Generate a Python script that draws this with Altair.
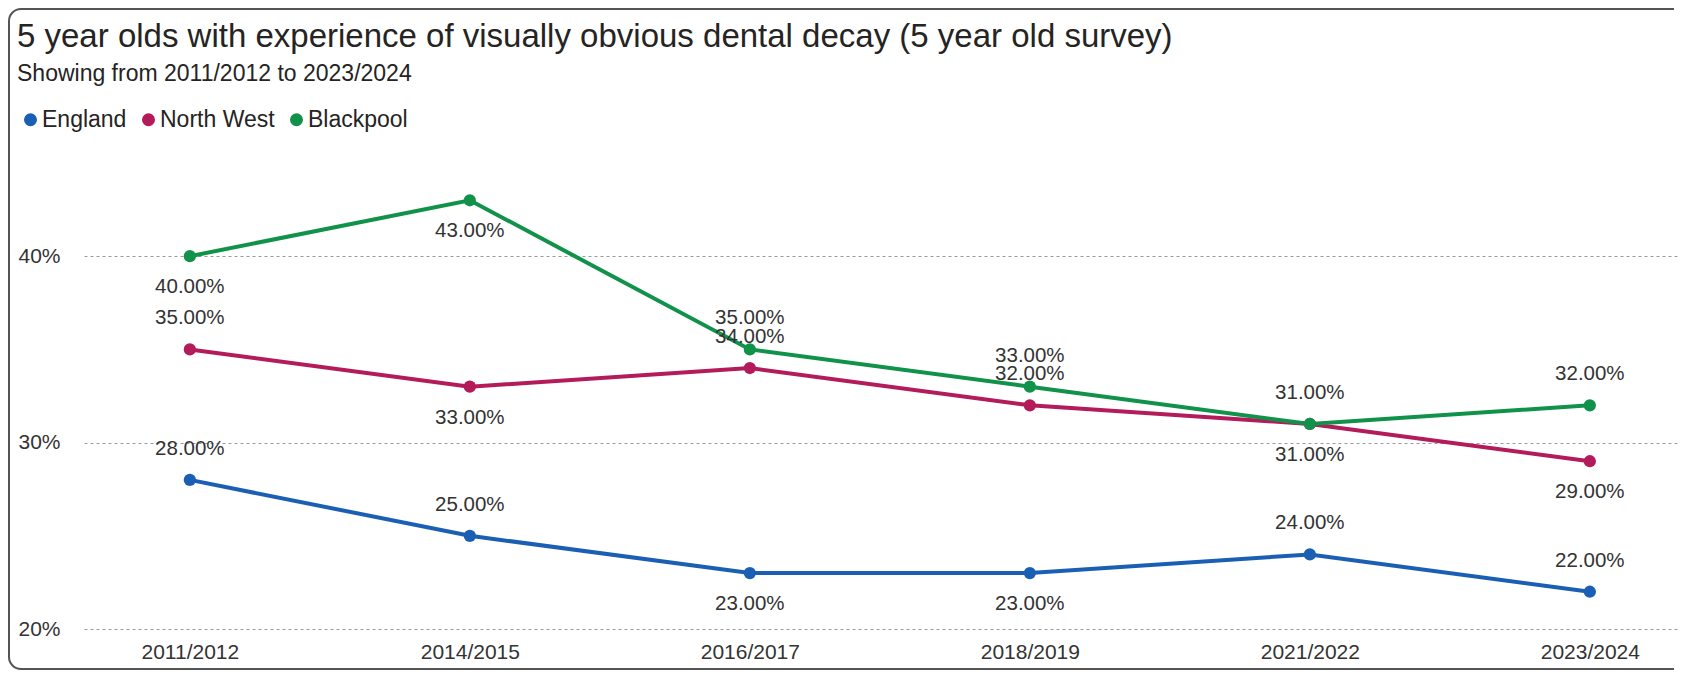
import altair as alt
import pandas as pd

# ---- data ----
periods = ["2011/2012", "2014/2015", "2016/2017", "2018/2019", "2021/2022", "2023/2024"]
england = [0.28, 0.25, 0.23, 0.23, 0.24, 0.22]
north_west = [0.35, 0.33, 0.34, 0.32, 0.31, 0.29]
blackpool = [0.40, 0.43, 0.35, 0.33, 0.31, 0.32]
england_label_side = ["above", "above", "below", "below", "above", "above"]
north_west_label_side = ["above", "below", "above", "above", "below", "below"]
blackpool_label_side = ["below", "below", "above", "above", "above", "above"]
series_names = ["England", "North West", "Blackpool"]
series_colors = ["#1A5FB4", "#B31B5B", "#11924A"]
y_ticks = [0.2, 0.3, 0.4]

rows = []
for name, vals, sides in [
    ("England", england, england_label_side),
    ("North West", north_west, north_west_label_side),
    ("Blackpool", blackpool, blackpool_label_side),
]:
    for p, v, s in zip(periods, vals, sides):
        rows.append({"period": p, "value": v, "series": name, "side": s})
df = pd.DataFrame(rows)

FONT = "Liberation Sans"
TXT = "#252423"

x_enc = alt.X(
    "period:O",
    sort=periods,
    scale=alt.Scale(type="point", padding=0.35, align=0.54),
    axis=alt.Axis(
        title=None, domain=False, ticks=False, grid=False, labelAngle=0,
        labelFontSize=21, labelFont=FONT, labelColor="#333333", labelPadding=12,
    ),
)
y_enc = alt.Y(
    "value:Q",
    scale=alt.Scale(domain=[0.2, 0.45], nice=False, zero=False),
    axis=alt.Axis(
        title=None, domain=False, ticks=False, values=y_ticks, format=".0%",
        labelAlign="left", labelBaseline="middle", labelPadding=66,
        labelFontSize=21, labelFont=FONT, labelColor="#333333",
        gridDash=[3, 3], gridColor="#9a9a9a", gridWidth=1,
    ),
)
color_scale = alt.Scale(domain=series_names, range=series_colors)
color_enc = alt.Color(
    "series:N",
    scale=color_scale,
    legend=alt.Legend(
        title=None, orient="none", direction="horizontal", legendX=-65, legendY=-55,
        symbolType="circle", symbolSize=170, symbolStrokeWidth=0,
        labelFontSize=23, labelFont=FONT, labelColor=TXT, labelOffset=0,
        columnPadding=10,
    ),
)

base = alt.Chart(df)

lines = base.mark_line(strokeWidth=4).encode(
    x=x_enc, y=y_enc, color=color_enc, detail="series:N"
)
points = base.mark_circle(size=150, opacity=1).encode(
    x=x_enc, y=y_enc, color=alt.Color("series:N", scale=color_scale, legend=None)
)
labels_above = base.mark_text(
    fontSize=20.5, font=FONT, color="#333333", dy=-31, baseline="middle"
).encode(
    x=x_enc, y=y_enc, text=alt.Text("value:Q", format=".2%")
).transform_filter(alt.datum.side == "above")
labels_below = base.mark_text(
    fontSize=20.5, font=FONT, color="#333333", dy=31, baseline="middle"
).encode(
    x=x_enc, y=y_enc, text=alt.Text("value:Q", format=".2%")
).transform_filter(alt.datum.side == "below")

# outer frame of the visual (open on the right, as in the reference)
one = pd.DataFrame({"f": [0]})
frame_top = alt.Chart(one).mark_rule(stroke="#555555", strokeWidth=2, clip=False).encode(
    x=alt.value(-63), x2=alt.value(1590), y=alt.value(-154)
)
frame_left = alt.Chart(one).mark_rule(stroke="#555555", strokeWidth=2, clip=False).encode(
    x=alt.value(-75), y=alt.value(-142), y2=alt.value(494)
)
frame_bottom = alt.Chart(one).mark_rule(stroke="#555555", strokeWidth=2, clip=False).encode(
    x=alt.value(-63), x2=alt.value(1590), y=alt.value(506)
)
corners = alt.Chart(one).mark_arc(stroke="#555555", strokeWidth=2, fill=None, clip=False)
corner_tl = corners.encode(
    x=alt.value(-63), y=alt.value(-142), theta=alt.value(4.712), theta2=alt.value(6.283),
    radius=alt.value(12), radius2=alt.value(12),
)
corner_bl = corners.encode(
    x=alt.value(-63), y=alt.value(494), theta=alt.value(3.1416), theta2=alt.value(4.712),
    radius=alt.value(12), radius2=alt.value(12),
)

chart = alt.layer(
    frame_top, frame_left, frame_bottom, corner_tl, corner_bl,
    lines, points, labels_above, labels_below
).properties(
    width=1596,
    height=466,
    background="white",
    autosize=alt.AutoSizeParams(type="none"),
    padding={"left": 76, "top": 155, "right": 2, "bottom": 42},
    title=alt.TitleParams(
        text="5 year olds with experience of visually obvious dental decay (5 year old survey)",
        subtitle="Showing  from 2011/2012 to 2023/2024",
        anchor="start", frame="group", dx=-67, offset=-83, dy=-2,
        font=FONT, fontSize=33, fontWeight="normal", color=TXT,
        subtitleFont=FONT, subtitleFontSize=23, subtitleColor=TXT, subtitlePadding=9,
    ),
).configure_view(stroke=None)

chart.save("out.html", embed_options={"renderer": "svg", "actions": False})
